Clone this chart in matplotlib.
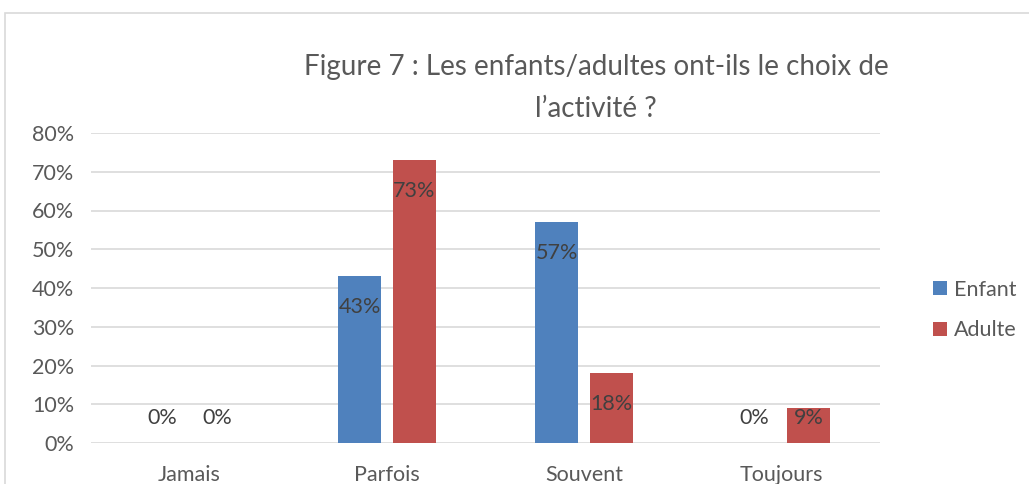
import matplotlib
matplotlib.use("Agg")
from matplotlib import pyplot as plt
from matplotlib.patches import Rectangle
import numpy as np

plt.rcParams['font.family'] = ['Lato', 'DejaVu Sans']

# data
categories = ['Jamais', 'Parfois', 'Souvent', 'Toujours']
enfant = [0, 43, 57, 0]
adulte = [0, 73, 18, 9]
series_names = ['Enfant', 'Adulte']
colors = ['#4F81BD', '#C0504D']
text_color = '#595959'

fig = plt.figure(figsize=(10.29, 4.84), dpi=100)
W, H = 1029, 484

# outer chart border
fig.patches.append(Rectangle((5 / W, -0.1), 1.2, (484 - 13) / H + 0.1,
                             transform=fig.transFigure, fill=False,
                             edgecolor='#D9D9D9', linewidth=1.2))

ax = fig.add_axes([91 / W, (H - 443) / H, (880 - 91) / W, (443 - 133) / H])

x = np.arange(len(categories))
bw = 0.22
off = 0.139
for vals, name, col, sign in [(enfant, series_names[0], colors[0], -1),
                              (adulte, series_names[1], colors[1], 1)]:
    ax.bar(x + sign * off, vals, width=bw, color=col, label=name, zorder=3)
    for xi, v in zip(x, vals):
        ly = max(v - 8.0, 6.5)
        ax.text(xi + sign * off, ly, f'{v}%', ha='center', va='center',
                fontsize=15.5, color='#404040', zorder=4)

ax.set_xlim(-0.5, len(categories) - 0.5)
ax.set_ylim(0, 80)
ax.set_yticks(range(0, 81, 10))
ax.set_yticklabels([f'{t}%' for t in range(0, 81, 10)])
ax.set_xticks(x)
ax.set_xticklabels(categories)
ax.tick_params(axis='both', length=0, labelsize=15.5, colors=text_color)
ax.tick_params(axis='y', pad=12)
ax.tick_params(axis='x', pad=16)
ax.grid(axis='y', color='#D9D9D9', linewidth=1.2, zorder=0)
for s in ax.spines.values():
    s.set_visible(False)

fig.text(596 / W, 1 - 75 / H, "Figure 7 : Les enfants/adultes ont-ils le choix de",
         ha='center', va='baseline', fontsize=20, color=text_color)
fig.text(596 / W, 1 - 117 / H, "l\u2019activit\u00e9 ?",
         ha='center', va='baseline', fontsize=20, color=text_color)

ax.legend(loc='center left', bbox_to_anchor=(914 / W, 1 - 310 / H),
          bbox_transform=fig.transFigure, frameon=False, fontsize=15.5,
          labelcolor=text_color, handlelength=0.62, handleheight=0.62,
          handletextpad=0.35, labelspacing=0.95)

plt.savefig('out.png', dpi=100)
